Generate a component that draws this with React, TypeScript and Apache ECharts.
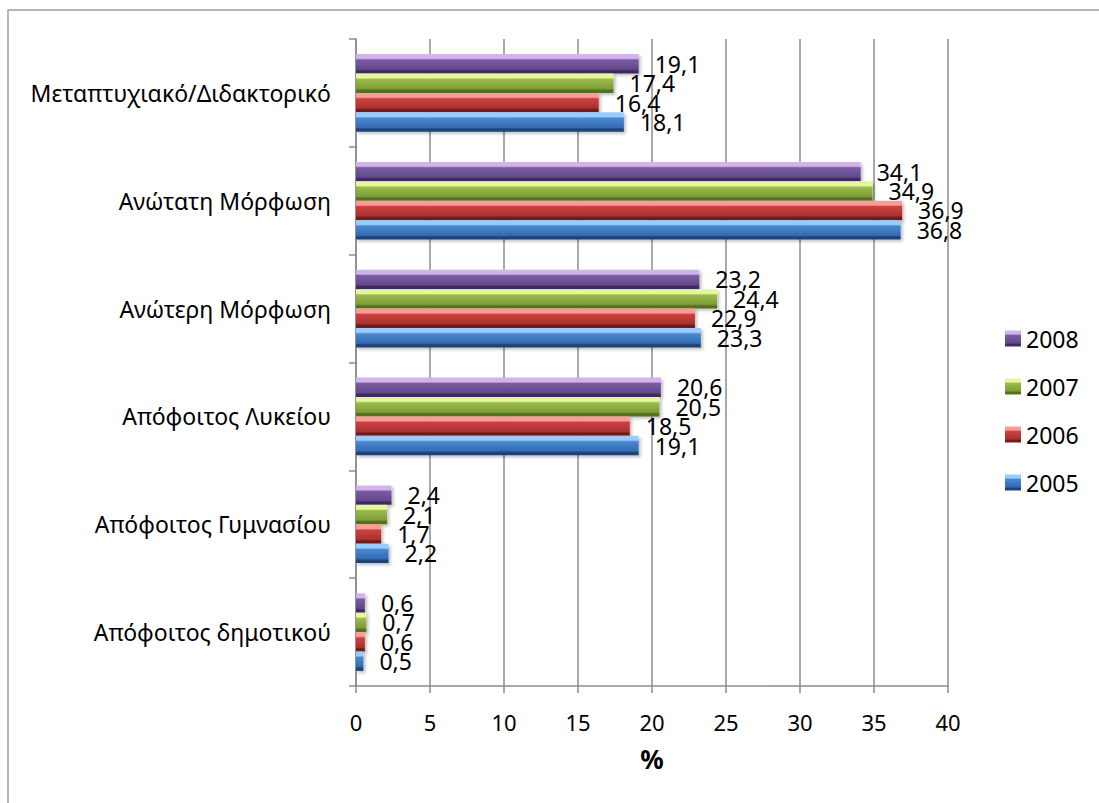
import React, { useEffect, useRef } from "react";
import * as echarts from "echarts";

const categories = [
  "Απόφοιτος δημοτικού",
  "Απόφοιτος Γυμνασίου",
  "Απόφοιτος Λυκείου",
  "Ανώτερη Μόρφωση",
  "Ανώτατη Μόρφωση",
  "Μεταπτυχιακό/Διδακτορικό",
];

const seriesNames = ["2008", "2007", "2006", "2005"];

const values2008 = [0.6, 2.4, 20.6, 23.2, 34.1, 19.1];
const values2007 = [0.7, 2.1, 20.5, 24.4, 34.9, 17.4];
const values2006 = [0.6, 1.7, 18.5, 22.9, 36.9, 16.4];
const values2005 = [0.5, 2.2, 19.1, 23.3, 36.8, 18.1];

const xTicks = [0, 40, 5];

const palettes = [
  ["#d2b2ef", "#7a5ca3", "#62488a", "#3f2c5c"],
  ["#e4f79a", "#9bbb4c", "#7f9c36", "#566f20"],
  ["#ff9a94", "#cc4240", "#a93130", "#6e1c1d"],
  ["#98ccff", "#4a88d2", "#336bb0", "#1f4475"],
];

const FONT = "'Noto Sans', sans-serif";

function grad(p: string[]) {
  return new echarts.graphic.LinearGradient(0, 0, 0, 1, [
    { offset: 0, color: p[0] },
    { offset: 0.22, color: p[0] },
    { offset: 0.3, color: p[1] },
    { offset: 0.78, color: p[2] },
    { offset: 0.86, color: p[3] },
    { offset: 1, color: p[3] },
  ]);
}

export default function App() {
  const ref = useRef<HTMLDivElement>(null);
  useEffect(() => {
    if (!ref.current) return;
    const chart = echarts.init(ref.current, undefined, { renderer: "svg" });
    const allValues = [values2008, values2007, values2006, values2005];
    const series = seriesNames.map((name, i) => ({
      name,
      type: "bar",
      data: allValues[i],
      barGap: "0%",
      barCategoryGap: "28%",
      itemStyle: {
        color: grad(palettes[i]),
        shadowColor: "rgba(0,0,0,0.25)",
        shadowBlur: 3,
        shadowOffsetX: 2,
        shadowOffsetY: 2,
      },
      label: {
        show: true,
        position: "right",
        distance: 16,
        color: "#000",
        fontFamily: FONT,
        fontSize: 23,
        formatter: (p: any) => p.value.toFixed(1).replace(".", ","),
      },
    }));
    chart.setOption({
      animation: false,
      backgroundColor: "#fff",
      textStyle: { fontFamily: FONT },
      graphic: [
        {
          type: "rect",
          shape: { x: 8, y: 10, width: 1300, height: 1000 },
          style: { fill: "none", stroke: "#a0a0a0", lineWidth: 1.5 },
          silent: true,
        },
      ],
      grid: { left: 356, right: 151, top: 39, bottom: 117 },
      legend: {
        orient: "vertical",
        left: 1005,
        top: 327,
        padding: 0,
        itemWidth: 16,
        itemHeight: 16,
        itemGap: 25,
        icon: "rect",
        textStyle: { fontFamily: FONT, fontSize: 23, color: "#000" },
        data: seriesNames,
      },
      xAxis: {
        type: "value",
        min: xTicks[0],
        max: xTicks[1],
        interval: xTicks[2],
        name: "%",
        nameLocation: "middle",
        nameGap: 60,
        nameTextStyle: { fontFamily: FONT, fontSize: 26, fontWeight: "bold", color: "#000" },
        axisLine: { show: true, lineStyle: { color: "#8c8c8c", width: 1.5 } },
        axisTick: { show: true, length: 7, lineStyle: { color: "#8c8c8c", width: 1.5 } },
        axisLabel: { fontFamily: FONT, fontSize: 22, color: "#000", margin: 25 },
        splitLine: { show: true, lineStyle: { color: "#8c8c8c", width: 1.5 } },
      },
      yAxis: {
        type: "category",
        data: categories,
        axisLine: { show: true, lineStyle: { color: "#8c8c8c", width: 1.5 } },
        axisTick: { show: true, length: 7, lineStyle: { color: "#8c8c8c", width: 1.5 } },
        axisLabel: { fontFamily: FONT, fontSize: 23, color: "#000", margin: 25 },
        splitLine: { show: false },
      },
      series,
    });
    return () => chart.dispose();
  }, []);
  return (
    <div
      ref={ref}
      style={{ position: "absolute", left: 0, top: 0, width: 1099, height: 803 }}
    />
  );
}
